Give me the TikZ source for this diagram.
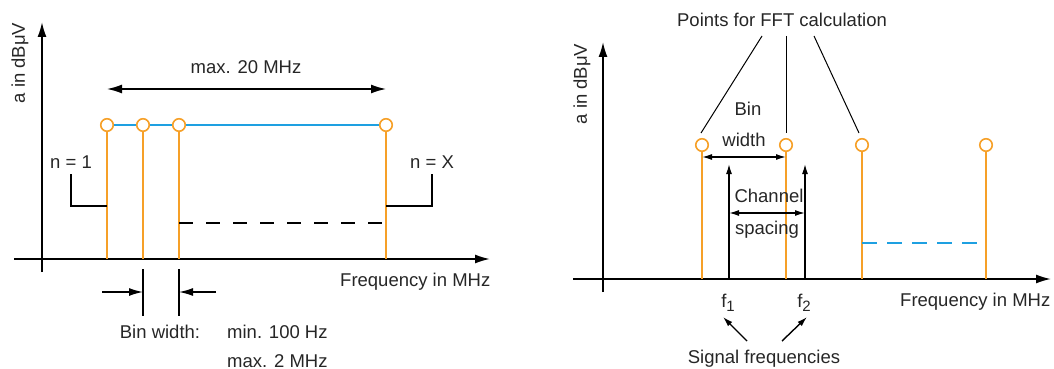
\documentclass[tikz,border=0pt]{standalone}
\usepackage{fontspec}
\setmainfont{Liberation Sans}
\usetikzlibrary{arrows.meta}
\definecolor{stemorange}{RGB}{246,160,40}
\definecolor{lineblue}{RGB}{30,160,225}
\newcommand\subidx[1]{\raisebox{-0.45ex}{\fontsize{15}{15}\selectfont #1}}

\begin{document}
\begin{tikzpicture}[
    x=1pt, y=-1pt,
    lbl/.style={inner sep=0pt, font=\fontsize{18.5}{30}\selectfont, text=black!85},
    pt/.style={circle, draw=stemorange, fill=white, line width=1.6pt, minimum size=12.5pt, inner sep=0pt},
    stem/.style={draw=stemorange, line width=2pt},
    axis/.style={-{Latex[length=15pt,width=9pt]}, line width=1.7pt},
    arrow/.style={-{Latex[length=14pt,width=8pt]}, line width=1.4pt},
    smallarrow/.style={-{Latex[length=10pt,width=6pt]}, line width=1.4pt},
    dblarrow/.style={{Latex[length=15pt,width=9pt]}-{Latex[length=15pt,width=9pt]}, line width=1.5pt},
    smalldbl/.style={{Latex[length=10pt,width=6pt]}-{Latex[length=10pt,width=6pt]}, line width=1.4pt},
    guide/.style={line width=1.4pt},
    pointer/.style={line width=1pt}
]
    \useasboundingbox (0,0) rectangle (1054,369);

    % left diagram
    \coordinate (ly0) at (42,272);
    \coordinate (ly1) at (42,22);
    \coordinate (lx0) at (14,259);
    \coordinate (lx1) at (490,259);
    \draw [axis] (ly0) -- (ly1);
    \draw [axis] (lx0) -- (lx1);
    \node [lbl, rotate=90] (lya) at (20,63) {a in dBμV};
    \node [lbl, anchor=base west] (lxa) at (340,286) {Frequency in MHz};

    \coordinate (lb1) at (107,259);
    \coordinate (lb2) at (143,259);
    \coordinate (lb3) at (179,259);
    \coordinate (lb4) at (386,259);
    \node [pt] (lp1) at (107,125) {};
    \node [pt] (lp2) at (143,125) {};
    \node [pt] (lp3) at (179,125) {};
    \node [pt] (lp4) at (386,125) {};
    \draw [lineblue, line width=1.6pt] (lp1) -- (lp2) -- (lp3) -- (lp4);
    \draw [stem] (lb1) -- (lp1);
    \draw [stem] (lb2) -- (lp2);
    \draw [stem] (lb3) -- (lp3);
    \draw [stem] (lb4) -- (lp4);

    \coordinate (m1) at (107,89);
    \coordinate (m2) at (386,89);
    \draw [dblarrow] (m1) -- (m2);
    \node [lbl, anchor=base] (mtxt) at (246,74) {max. 20 MHz};

    \node [lbl, anchor=base] (nfirst) at (71,168) {n = 1};
    \node [lbl, anchor=base] (nlast) at (432,168) {n = X};
    \coordinate (k1) at (71,174);
    \coordinate (k1s) at (107,206);
    \coordinate (k2) at (432,174);
    \coordinate (k2s) at (386,206);
    \draw [guide] (k1) |- (k1s);
    \draw [guide] (k2) |- (k2s);

    \coordinate (d1) at (179,223);
    \coordinate (d2) at (386,223);
    \draw [guide, dash pattern=on 14pt off 13pt] (d1) -- (d2);

    \coordinate (t1a) at (143,269);
    \coordinate (t1b) at (143,316);
    \coordinate (t2a) at (179,269);
    \coordinate (t2b) at (179,316);
    \draw [guide] (t1a) -- (t1b);
    \draw [guide] (t2a) -- (t2b);
    \coordinate (w1) at (102,292);
    \coordinate (w2) at (216,292);
    \draw [arrow] (w1) -- (t1a |- w1);
    \draw [arrow] (w2) -- (t2a |- w2);
    \node [lbl, anchor=base] (bwtxt) at (160,338) {Bin width:};
    \node [lbl, anchor=base west] (bwmin) at (227,338) {min. 100 Hz};
    \node [lbl, anchor=base west] (bwmax) at (227,367) {max. 2 MHz};

    % right diagram
    \coordinate (ry0) at (603,292);
    \coordinate (ry1) at (603,42);
    \coordinate (rx0) at (573,279);
    \coordinate (rx1) at (1051,279);
    \draw [axis] (ry0) -- (ry1);
    \draw [axis] (rx0) -- (rx1);
    \node [lbl, rotate=90] (rya) at (582,84) {a in dBμV};
    \node [lbl, anchor=base west] (rxa) at (900,306) {Frequency in MHz};

    \coordinate (rb1) at (702,279);
    \coordinate (rb2) at (786,279);
    \coordinate (rb3) at (862,279);
    \coordinate (rb4) at (986,279);
    \node [pt] (rp1) at (702,145) {};
    \node [pt] (rp2) at (786,145) {};
    \node [pt] (rp3) at (862,145) {};
    \node [pt] (rp4) at (986,145) {};
    \draw [stem] (rb1) -- (rp1);
    \draw [stem] (rb2) -- (rp2);
    \draw [stem] (rb3) -- (rp3);
    \draw [stem] (rb4) -- (rp4);

    \coordinate (bl1) at (862,243);
    \coordinate (bl2) at (986,243);
    \draw [lineblue, line width=1.6pt, dash pattern=on 15pt off 10pt] (bl1) -- (bl2);

    \node [lbl, anchor=base] (fft) at (782,27) {Points for FFT calculation};
    \coordinate (q1) at (762,36);
    \coordinate (q2) at (786,36);
    \coordinate (q3) at (814,36);
    \coordinate (e1) at (701,133);
    \coordinate (e2) at (786,133);
    \coordinate (e3) at (859,133);
    \draw [pointer] (q1) -- (e1);
    \draw [pointer] (q2) -- (e2);
    \draw [pointer] (q3) -- (e3);

    \coordinate (f1b) at (729,279);
    \coordinate (f1t) at (729,164);
    \coordinate (f2b) at (805,279);
    \coordinate (f2t) at (805,164);
    \draw [smallarrow] (f1b) -- (f1t);
    \draw [smallarrow] (f2b) -- (f2t);

    \coordinate (bw1) at (702,157);
    \coordinate (bw2) at (786,157);
    \draw [smalldbl] (bw1) -- (bw2);
    \node [lbl, anchor=base] (bin1) at (748,115) {Bin};
    \node [lbl, anchor=base] (bin2) at (744,146) {width};

    \coordinate (cs1) at (729,213);
    \coordinate (cs2) at (805,213);
    \draw [smalldbl] (cs1) -- (cs2);
    \node [lbl, anchor=base] (ch1) at (769,202) {Channel};
    \node [lbl, anchor=base] (ch2) at (767,234) {spacing};

    \node [lbl, anchor=base] (fone) at (728,307) {f\subidx{1}};
    \node [lbl, anchor=base] (ftwo) at (804,307) {f\subidx{2}};
    \node [lbl, anchor=base] (sig) at (764,363) {Signal frequencies};
    \coordinate (s1) at (747,341);
    \coordinate (s2) at (782,341);
    \coordinate (g1) at (723,317);
    \coordinate (g2) at (807,317);
    \draw [smallarrow] (s1) -- (g1);
    \draw [smallarrow] (s2) -- (g2);
\end{tikzpicture}
\end{document}
